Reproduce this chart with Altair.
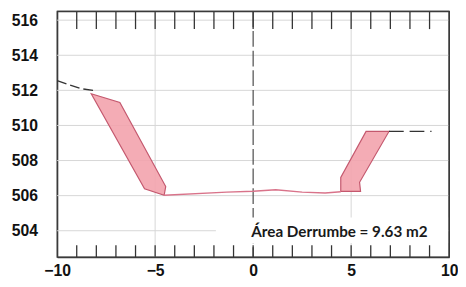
import altair as alt
import pandas as pd

# ---- data ----
left_x = [-8.26, -6.80, -4.46, -4.54, -5.54]
left_y = [511.81, 511.31, 506.52, 506.02, 506.39]
right_x = [4.47, 4.47, 5.76, 6.93, 5.43, 5.48]
right_y = [506.24, 507.04, 509.66, 509.66, 506.76, 506.24]
floor_x = [-4.54, -1.35, 0.0, 1.15, 2.5, 3.67, 4.47]
floor_y = [506.02, 506.2, 506.25, 506.33, 506.2, 506.15, 506.22]
ground_left_x = [-10.0, -8.8, -8.06]
ground_left_y = [512.55, 512.1, 511.98]
ground_right_x = [6.93, 9.1]
ground_right_y = [509.66, 509.66]
x_labels = [-10, -5, 0, 5, 10]
y_labels = [504, 506, 508, 510, 512, 514, 516]
grid_x = [-5, 5]
tick_x = list(range(-9, 10))
note_text = ["Área Derrumbe = 9.63 m2"]
note_x = [4.4]
note_y = [503.95]
box_x = [-1.9]
box_x2 = [9.95]
box_y = [503.3]
box_y2 = [504.75]
x_domain = [-10, 10]
y_domain = [502.5, 516.5]

W, H = 399, 250
xs = alt.Scale(domain=x_domain, nice=False, zero=False)
ys = alt.Scale(domain=y_domain, nice=False, zero=False)
xaxis = alt.Axis(values=x_labels, title=None, grid=False, ticks=False,
                 domain=True, domainColor="#3a3a3a", domainWidth=1.4,
                 labelFont="Liberation Sans", labelFontSize=16, labelFontWeight="bold",
                 labelColor="#111", labelPadding=6, labelFlush=False)
yaxis = alt.Axis(values=y_labels, title=None, grid=False, ticks=False,
                 domain=True, domainColor="#3a3a3a", domainWidth=1.4,
                 labelFont="Liberation Sans", labelFontSize=16, labelFontWeight="bold",
                 labelColor="#111", labelPadding=20)


def X(f):
    return alt.X(f, type="quantitative", scale=xs, axis=xaxis)


def Y(f):
    return alt.Y(f, type="quantitative", scale=ys, axis=yaxis)


def poly_df(xv, yv):
    return pd.DataFrame({"x": xv, "y": yv, "i": list(range(len(xv)))})


hgrid = alt.Chart(pd.DataFrame({"gy": y_labels})).mark_rule(
    color="#d6d6d6", strokeWidth=1).encode(y=Y("gy"))
vgrid = alt.Chart(pd.DataFrame({"gx": grid_x})).mark_rule(
    color="#d6d6d6", strokeWidth=1).encode(x=X("gx"))

center = alt.Chart(pd.DataFrame({"cx": [0]})).mark_rule(
    color="#4a4a4a", strokeWidth=1.2, strokeDash=[16, 4]).encode(x=X("cx"))

box = alt.Chart(pd.DataFrame({"bx": box_x, "bx2": box_x2, "by": box_y, "by2": box_y2})).mark_rect(
    color="white").encode(x=X("bx"), x2="bx2", y=Y("by"), y2="by2")

left_poly = alt.Chart(poly_df(left_x, left_y)).mark_line(
    interpolate="linear-closed", fill="#f3a3ad", fillOpacity=0.9,
    stroke="#c4586e", strokeWidth=1.2).encode(x=X("x"), y=Y("y"), order="i:Q")
right_poly = alt.Chart(poly_df(right_x, right_y)).mark_line(
    interpolate="linear-closed", fill="#f3a3ad", fillOpacity=0.9,
    stroke="#c4586e", strokeWidth=1.2).encode(x=X("x"), y=Y("y"), order="i:Q")

floor = alt.Chart(poly_df(floor_x, floor_y)).mark_line(
    color="#d9738a", strokeWidth=1.5).encode(x=X("x"), y=Y("y"), order="i:Q")

ground_l = alt.Chart(poly_df(ground_left_x, ground_left_y)).mark_line(
    color="#333", strokeWidth=1.3, strokeDash=[10, 4]).encode(x=X("x"), y=Y("y"), order="i:Q")
ground_r = alt.Chart(poly_df(ground_right_x, ground_right_y)).mark_line(
    color="#333", strokeWidth=1.3, strokeDash=[15, 6]).encode(x=X("x"), y=Y("y"), order="i:Q")

ticks_df = pd.DataFrame({"tx": tick_x})
ticks_bottom = alt.Chart(ticks_df).mark_rule(color="#333", strokeWidth=1.3).encode(
    x=X("tx"), y=alt.value(H), y2=alt.value(H - 12))
ticks_top = alt.Chart(ticks_df).mark_rule(color="#333", strokeWidth=1.3).encode(
    x=X("tx"), y=alt.value(0), y2=alt.value(18))

# plot frame (top and right edges; left/bottom come from the axis domains)
edge_df = pd.DataFrame({"ex": [x_domain[1]], "ey": [y_domain[1]],
                        "ex0": [x_domain[0]], "ey0": [y_domain[0]]})
right_edge = alt.Chart(edge_df).mark_rule(color="#3a3a3a", strokeWidth=1.4).encode(
    x=X("ex"), y=Y("ey0"), y2="ey")
top_edge = alt.Chart(edge_df).mark_rule(color="#3a3a3a", strokeWidth=1.4).encode(
    y=Y("ey"), x=X("ex0"), x2="ex")

note = alt.Chart(pd.DataFrame({"t": note_text, "nx": note_x, "ny": note_y})).mark_text(
    font="Lato", fontSize=15.5, fontWeight="bold", color="#1a1a1a").encode(
    x=X("nx"), y=Y("ny"), text="t:N")

chart = alt.layer(
    hgrid, vgrid, center, box, left_poly, right_poly, floor, ground_l, ground_r,
    ticks_bottom, ticks_top, right_edge, top_edge, note
).properties(
    width=W, height=H,
    background="white",
    autosize=alt.AutoSizeParams(type="none"),
    padding={"left": 50, "top": 1, "right": 9, "bottom": 27},
).configure_view(stroke="#3a3a3a", strokeWidth=1.4)

chart.save("out.html", embed_options={"renderer": "svg", "actions": False})
